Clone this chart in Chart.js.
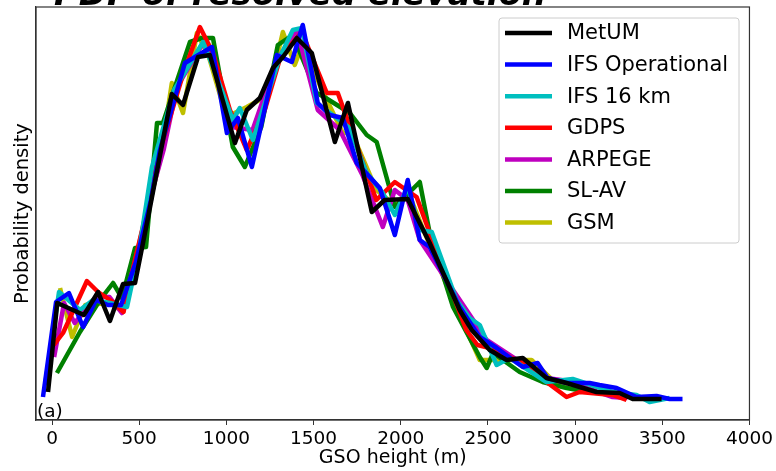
<!DOCTYPE html>
<html>
<head>
<meta charset="utf-8">
<script src="https://cdn.jsdelivr.net/npm/chart.js@4/dist/chart.umd.min.js"></script>
<style>
html,body{margin:0;padding:0;background:#fff;}
#c{display:block;}
</style>
</head>
<body>
<canvas id="c" width="776" height="471"></canvas>
<script>
// ---- data (density, arbitrary units; GSO height in m) ----
const seriesNames = ["MetUM", "IFS Operational", "IFS 16 km", "GDPS", "ARPEGE", "SL-AV", "GSM"];
const xTicks = [0, 500, 1000, 1500, 2000, 2500, 3000, 3500, 4000];

const metumX = [-23, 30, 183, 264, 332, 407, 476, 550, 625, 687, 751, 837, 905, 1049, 1117, 1192, 1267, 1324, 1404, 1490, 1622, 1697, 1834, 1908, 2040, 2166, 2338, 2407, 2510, 2607, 2700, 2836, 2951, 3123, 3255, 3330, 3496];
const metumY = [0.28, 1.17, 1.05, 1.28, 0.99, 1.36, 1.37, 2.02, 2.70, 3.26, 3.15, 3.63, 3.65, 2.77, 3.10, 3.22, 3.52, 3.63, 3.82, 3.67, 2.78, 3.17, 2.08, 2.20, 2.21, 1.77, 1.10, 0.90, 0.70, 0.60, 0.62, 0.42, 0.37, 0.28, 0.27, 0.21, 0.21];

const ifsOpX = [-52, 23, 97, 178, 252, 321, 396, 481, 567, 619, 762, 917, 1003, 1066, 1146, 1289, 1375, 1438, 1524, 1593, 1668, 1748, 1880, 1966, 2040, 2109, 2166, 2338, 2453, 2550, 2700, 2785, 2842, 2951, 3083, 3140, 3238, 3352, 3467, 3542, 3616];
const ifsOpY = [0.23, 1.18, 1.27, 0.93, 1.20, 1.15, 1.15, 1.58, 2.20, 2.70, 3.57, 3.73, 2.87, 3.02, 2.53, 3.65, 3.58, 3.95, 3.17, 3.05, 3.02, 2.57, 2.32, 1.85, 2.40, 1.80, 1.73, 1.13, 0.83, 0.72, 0.53, 0.57, 0.42, 0.37, 0.37, 0.35, 0.32, 0.23, 0.24, 0.21, 0.21];

const ifs16X = [-40, 40, 160, 235, 332, 430, 500, 573, 700, 866, 930, 1037, 1077, 1152, 1307, 1381, 1433, 1518, 1610, 1700, 1805, 1897, 1966, 2040, 2110, 2178, 2320, 2395, 2453, 2550, 2625, 2836, 2986, 3215, 3352, 3427, 3542];
const ifs16Y = [0.35, 1.28, 1.10, 1.20, 1.17, 1.13, 1.70, 2.53, 3.30, 3.78, 3.50, 3.00, 3.12, 2.80, 3.63, 3.90, 3.92, 3.17, 3.05, 2.93, 2.47, 2.27, 2.05, 2.33, 1.90, 1.88, 1.20, 1.02, 0.95, 0.55, 0.62, 0.38, 0.41, 0.28, 0.25, 0.18, 0.22];

const gdpsX = [10, 63, 200, 264, 350, 410, 453, 530, 620, 750, 848, 923, 1020, 1117, 1220, 1310, 1433, 1576, 1639, 1736, 1860, 1966, 2091, 2166, 2376, 2440, 2510, 2700, 2836, 2951, 3026, 3215, 3295];
const gdpsY = [0.75, 0.87, 1.39, 1.28, 1.18, 1.08, 1.43, 2.00, 2.70, 3.45, 3.93, 3.67, 3.10, 2.70, 3.10, 3.63, 3.88, 3.27, 3.27, 2.80, 2.20, 2.38, 2.23, 1.87, 0.90, 0.75, 0.72, 0.57, 0.38, 0.23, 0.28, 0.25, 0.20];

const arpegeX = [12, 69, 130, 252, 330, 400, 470, 560, 640, 716, 870, 920, 1030, 1150, 1290, 1404, 1524, 1650, 1780, 1897, 1966, 2040, 2109, 2300, 2493, 2650, 2836, 2920, 3050, 3215, 3300];
const arpegeY = [0.63, 1.17, 0.97, 1.23, 1.23, 1.07, 1.55, 2.20, 2.70, 3.33, 3.78, 3.65, 2.93, 2.90, 3.60, 3.90, 3.10, 2.90, 2.45, 1.93, 2.30, 2.20, 1.80, 1.30, 0.80, 0.62, 0.42, 0.40, 0.33, 0.23, 0.22];

const slavX = [28, 160, 275, 350, 401, 476, 539, 602, 636, 791, 860, 923, 1037, 1106, 1200, 1295, 1380, 1518, 1570, 1708, 1805, 1862, 1966, 2109, 2166, 2300, 2453, 2493, 2530, 2682, 2814, 2951, 3083];
const slavY = [0.47, 0.88, 1.20, 1.37, 1.22, 1.72, 1.73, 2.97, 2.97, 3.78, 3.82, 3.82, 2.73, 2.53, 2.93, 3.75, 3.85, 3.27, 3.22, 3.07, 2.85, 2.78, 2.13, 2.38, 1.87, 1.13, 0.63, 0.52, 0.67, 0.48, 0.38, 0.32, 0.28];

const gsmX = [46, 115, 190, 330, 407, 480, 620, 687, 751, 831, 900, 1000, 1117, 1240, 1324, 1392, 1440, 1540, 1668, 1720, 1860, 1966, 2050, 2130, 2300, 2453, 2600, 2750, 2900, 3100];
const gsmY = [1.32, 0.83, 1.15, 1.17, 1.08, 1.60, 2.60, 3.37, 3.07, 3.87, 3.63, 3.03, 3.13, 3.25, 3.88, 3.55, 3.77, 3.33, 2.87, 2.87, 2.30, 2.15, 2.25, 1.90, 1.20, 0.60, 0.60, 0.60, 0.35, 0.30];

const seriesX = [metumX, ifsOpX, ifs16X, gdpsX, arpegeX, slavX, gsmX];
const seriesY = [metumY, ifsOpY, ifs16Y, gdpsY, arpegeY, slavY, gsmY];
const seriesColors = ["#000000", "#0000ff", "#00bfbf", "#ff0000", "#bf00bf", "#008000", "#bfbf00"];

const datasets = seriesNames.map((name, i) => ({
  label: name,
  data: seriesX[i].map((x, j) => ({x: x, y: seriesY[i][j]})),
  borderColor: seriesColors[i],
  backgroundColor: seriesColors[i],
  borderWidth: 4.5,
  pointRadius: 0,
  tension: 0,
  fill: false,
  borderJoinStyle: 'round',
  borderCapStyle: 'butt'
}));

const FONT = "'DejaVu Sans', sans-serif";

const framePlugin = {
  id: 'frame',
  afterDatasetsDraw(chart) {
    const {ctx, chartArea: a} = chart;
    ctx.save();
    ctx.strokeStyle = '#333';
    ctx.lineWidth = 1.2;
    ctx.strokeRect(a.left, a.top, a.right - a.left, a.bottom - a.top);
    // panel label
    ctx.fillStyle = '#000';
    ctx.font = "18.5px " + FONT;
    ctx.textBaseline = 'alphabetic';
    ctx.textAlign = 'left';
    ctx.fillText('(a)', a.left + 1, a.bottom - 3);
    // legend
    const lx = 499, ly = 18, lw = 240, lh = 225;
    ctx.beginPath();
    if (ctx.roundRect) ctx.roundRect(lx, ly, lw, lh, 3); else ctx.rect(lx, ly, lw, lh);
    ctx.fillStyle = 'rgba(255,255,255,0.8)';
    ctx.fill();
    ctx.strokeStyle = '#cccccc';
    ctx.lineWidth = 1;
    ctx.stroke();
    ctx.font = "21px " + FONT;
    ctx.textBaseline = 'middle';
    chart.data.datasets.forEach((d, i) => {
      const y = 33 + i * 31.6;
      ctx.beginPath();
      ctx.moveTo(505, y);
      ctx.lineTo(552, y);
      ctx.strokeStyle = d.borderColor;
      ctx.lineWidth = 4.5;
      ctx.stroke();
      ctx.fillStyle = '#000';
      ctx.fillText(d.label, 567, y + 1);
    });
    // title (partly clipped at top)
    const t = 'PDF of resolved elevation';
    ctx.font = "italic bold 30px " + FONT;
    const w = ctx.measureText(t).width;
    const fs = 30 * 492 / w;
    ctx.font = "italic bold " + fs.toFixed(2) + "px " + FONT;
    ctx.textBaseline = 'alphabetic';
    ctx.fillStyle = '#000';
    ctx.fillText(t, 54, 5);
    ctx.restore();
  }
};

new Chart(document.getElementById('c'), {
  type: 'line',
  data: {datasets: datasets},
  options: {
    responsive: false,
    animation: false,
    devicePixelRatio: 1,
    layout: {padding: {top: 7, right: 26, left: 0, bottom: 0}},
    plugins: {legend: {display: false}, tooltip: {enabled: false}, title: {display: false}},
    scales: {
      x: {
        type: 'linear',
        min: -92,
        max: 4000,
        afterFit(s) { s.height = 51; },
        afterBuildTicks(s) { s.ticks = xTicks.map(v => ({value: v})); },
        ticks: {
          includeBounds: false,
          stepSize: 500,
          autoSkip: false,
          maxRotation: 0,
          padding: 3,
          color: '#000',
          font: {family: FONT, size: 18.5},
          callback: v => String(v)
        },
        grid: {display: true, drawOnChartArea: false, drawTicks: true, tickLength: 5, color: '#333'},
        border: {display: true, color: '#333', width: 1.2},
        title: {display: true, text: 'GSO height (m)', color: '#000', font: {family: FONT, size: 19}, padding: {top: 0, bottom: 2}}
      },
      y: {
        type: 'linear',
        min: 0,
        max: 4.13,
        afterFit(s) { s.width = 36; },
        ticks: {display: false},
        grid: {display: false, drawTicks: false},
        border: {display: true, color: '#333', width: 1.2},
        title: {display: true, text: 'Probability density', color: '#000', font: {family: FONT, size: 19.5}, padding: {top: 11, bottom: 0}}
      }
    }
  },
  plugins: [framePlugin]
});
</script>
</body>
</html>
